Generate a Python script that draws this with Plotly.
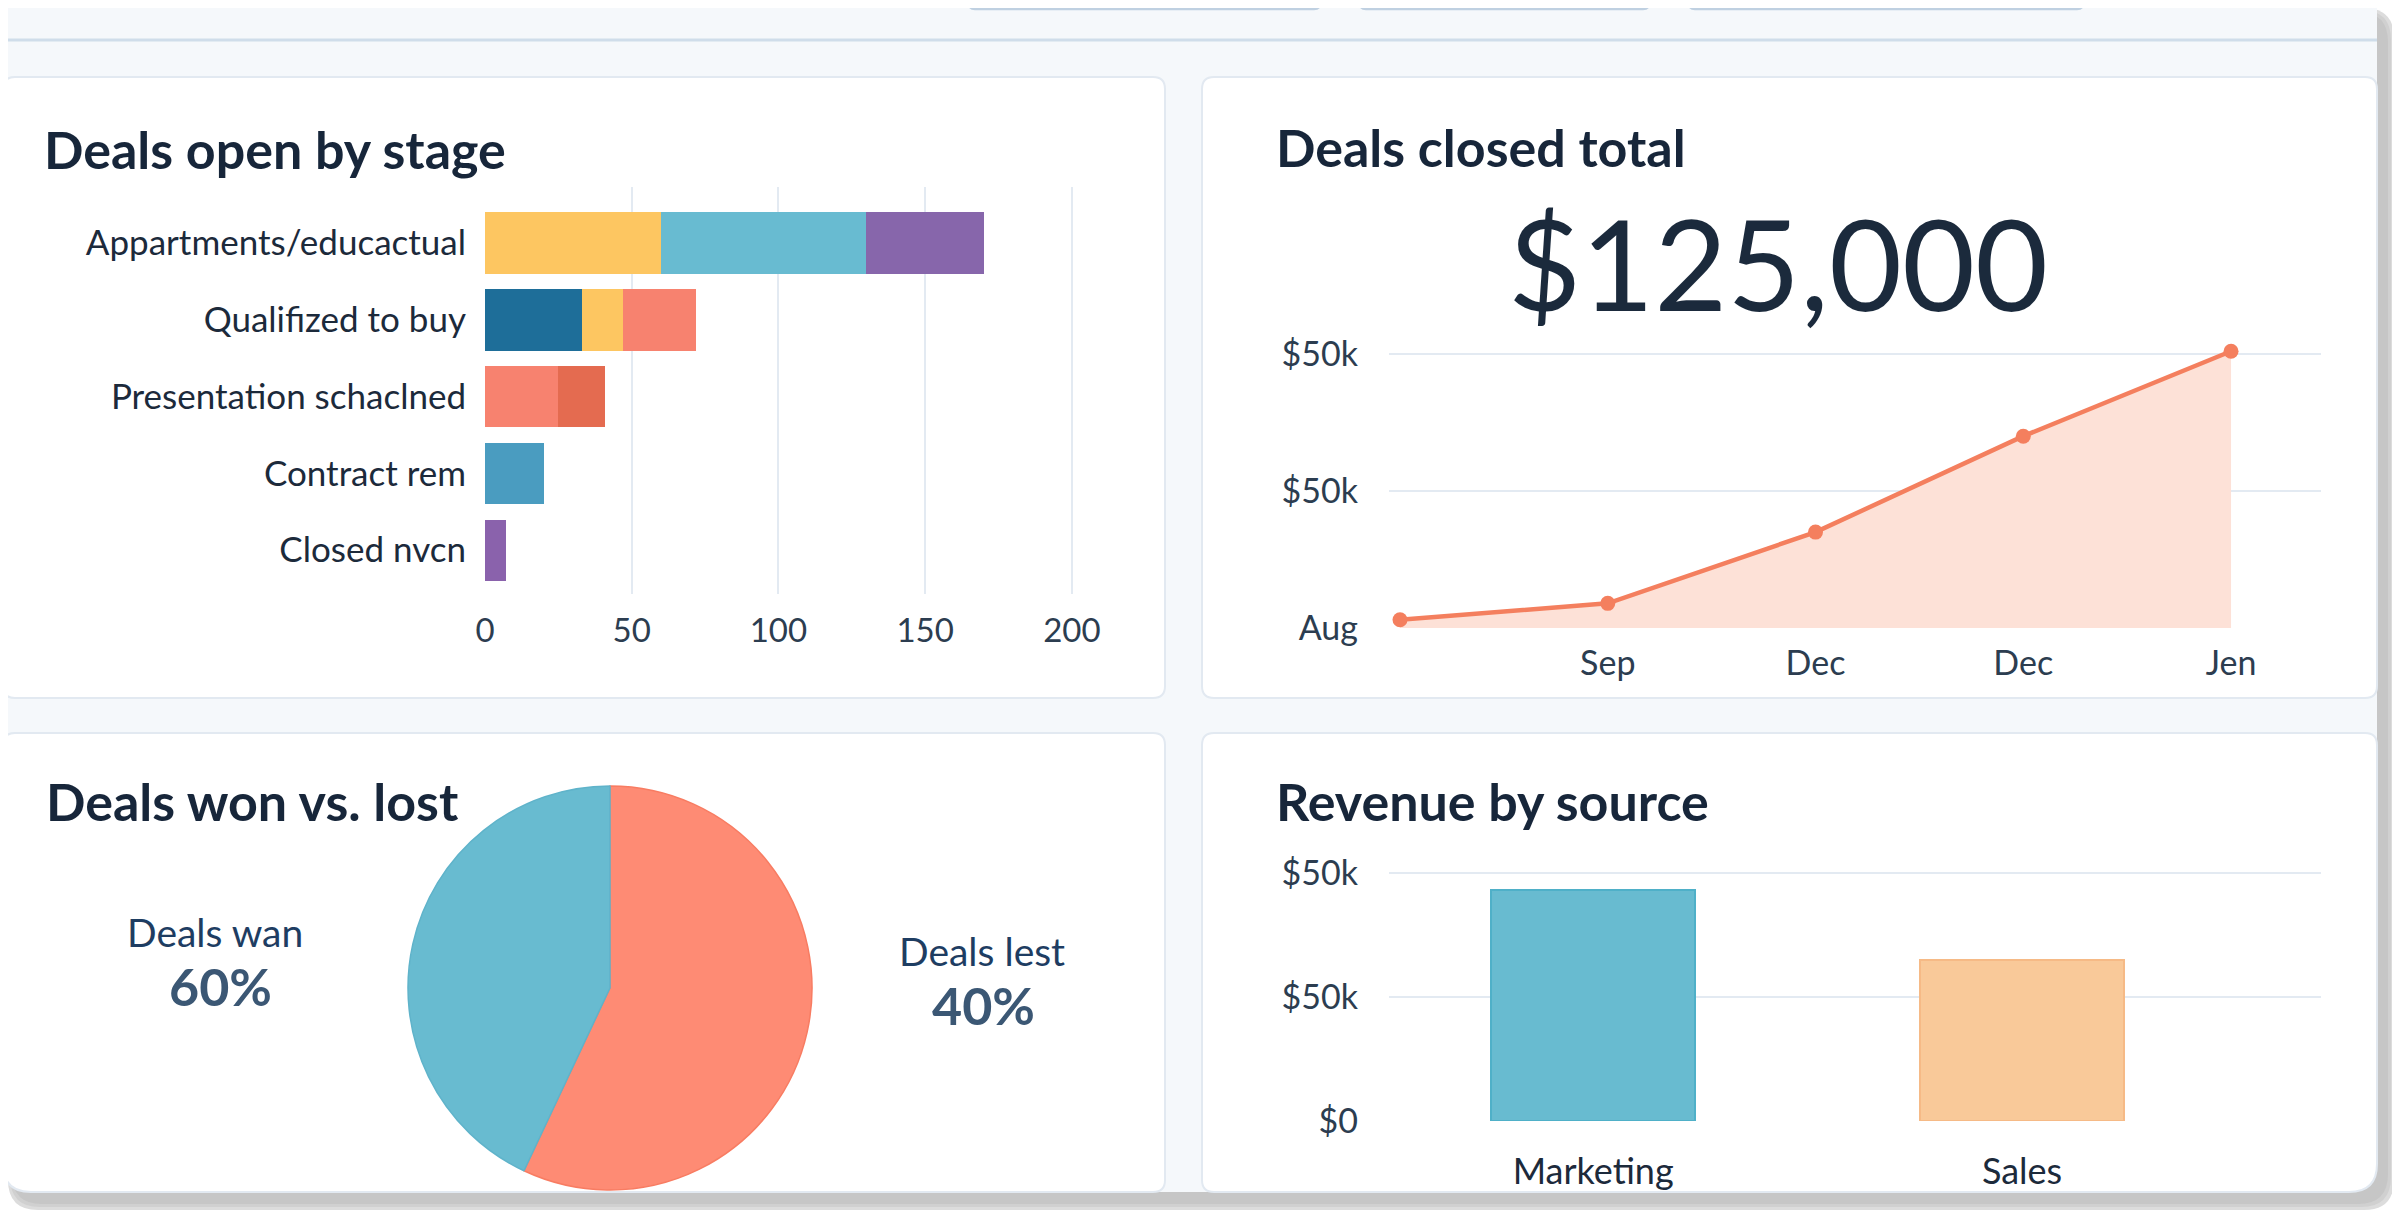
import plotly.graph_objects as go

W, H = 2392, 1210
OFF = 8  # page body margin

# ---------------- data ----------------
stages = ["Appartments/educactual", "Qualifized to buy", "Presentation schaclned", "Contract rem", "Closed nvcn"]
seg1_vals = [60, 33, 25, 20, 7]
seg2_vals = [70, 14, 16, None, None]
seg3_vals = [40, 25, None, None, None]
seg1_colors = ["#FDC661", "#1E6E99", "#F7826F", "#4A9CC0", "#8A62AC"]
seg2_colors = ["#68BBD1", "#FDC661", "#E46B50", "#FFFFFF", "#FFFFFF"]
seg3_colors = ["#8766AB", "#F7826F", "#FFFFFF", "#FFFFFF", "#FFFFFF"]
stage_ticks = [0, 50, 100, 150, 200]

months = ["Aug", "Sep", "Dec", "Dec", "Jen"]
closed_k = [3, 9, 35, 70, 101]
line_ytick_vals = [0, 50, 100]
line_ytick_text = ["Aug", "$50k", "$50k"]

pie_labels = ["Deals lost", "Deals won"]
pie_values = [57, 43]
pie_colors = ["#FE8B74", "#68BBD0"]
pie_edges = ["#F87C62", "#5FB3CA"]
pie_text_labels = ["Deals wan", "Deals lest"]
pie_text_pcts = ["60%", "40%"]

sources = ["Marketing", "Sales"]
revenue_k = [93, 65]
source_colors = ["#68BBD0", "#F9C999"]
source_edges = ["#4FB0C8", "#F6BA86"]
rev_ytick_vals = [0, 50, 100]
rev_ytick_text = ["$0", "$50k", "$50k"]

big_total = "$125,000"

FONT = "Lato"
DARK = "#17263A"
TICK = "#2C3D50"


def X(x):
    return (x - OFF) / W


def Y(y):
    return 1 - (y - OFF) / H


def rrect(x0, y0, x1, y1, r_tl, r_tr, r_br, r_bl):
    p = f"M {X(x0 + r_tl)},{Y(y0)} L {X(x1 - r_tr)},{Y(y0)} "
    p += f"Q {X(x1)},{Y(y0)} {X(x1)},{Y(y0 + r_tr)} "
    p += f"L {X(x1)},{Y(y1 - r_br)} Q {X(x1)},{Y(y1)} {X(x1 - r_br)},{Y(y1)} "
    p += f"L {X(x0 + r_bl)},{Y(y1)} Q {X(x0)},{Y(y1)} {X(x0)},{Y(y1 - r_bl)} "
    p += f"L {X(x0)},{Y(y0 + r_tl)} Q {X(x0)},{Y(y0)} {X(x0 + r_tl)},{Y(y0)} Z"
    return p


shapes = []
# outer shadow (layered)
for k, col in enumerate(["#dcdcdc", "#d0d0d0", "#c6c6c6"]):
    shapes.append(dict(type="path", xref="paper", yref="paper", layer="below",
                       path=rrect(8 + k * 2, 8 + k * 2, 2394 - k * 3, 1210 - k * 3, 30, 30, 30, 30),
                       fillcolor=col, line=dict(width=0)))
# frame
shapes.append(dict(type="path", xref="paper", yref="paper", layer="below",
                   path=rrect(3, -30, 2377, 1192, 28, 28, 28, 28),
                   fillcolor="#F5F8FB", line=dict(width=0)))
# header line
shapes.append(dict(type="line", xref="paper", yref="paper", layer="below",
                   x0=X(3), x1=X(2377), y0=Y(40), y1=Y(40), line=dict(color="#CFDDEA", width=3)))
# header buttons
for bx0, bx1 in [(969, 1320), (1360, 1649), (1689, 2083)]:
    shapes.append(dict(type="path", xref="paper", yref="paper", layer="below",
                       path=rrect(bx0, -20, bx1, 9, 0, 0, 6, 6),
                       fillcolor="#FFFFFF", line=dict(color="#BFD0E1", width=2.5)))
# cards
cards = [
    (3, 77, 1165, 698, 12, 12, 12, 12),
    (1202, 77, 2377, 698, 12, 12, 12, 12),
    (3, 733, 1165, 1192, 12, 12, 12, 28),
    (1202, 733, 2377, 1192, 12, 12, 28, 12),
]
for c in cards:
    shapes.append(dict(type="path", xref="paper", yref="paper", layer="below",
                       path=rrect(*c), fillcolor="#FFFFFF", line=dict(color="#E2E9F1", width=2)))

fig = go.Figure()

# ---------- Panel 1: stacked horizontal bars ----------
for vals, cols in [(seg1_vals, seg1_colors), (seg2_vals, seg2_colors), (seg3_vals, seg3_colors)]:
    fig.add_trace(go.Bar(y=stages, x=vals, orientation="h", marker=dict(color=cols, line=dict(width=0)),
                         width=0.8, xaxis="x", yaxis="y", showlegend=False, hoverinfo="skip"))

# ---------- Panel 2: area line ----------
fig.add_trace(go.Scatter(x=list(range(len(months))), y=closed_k, mode="lines+markers",
                         line=dict(color="#F47F5E", width=4.5),
                         marker=dict(color="#F47F5E", size=15),
                         fill="tozeroy", fillcolor="#FDE1D7",
                         xaxis="x2", yaxis="y2", showlegend=False, hoverinfo="skip"))

# ---------- Panel 3: pie ----------
pcx, pcy, pr = 610, 988, 202
fig.add_trace(go.Pie(labels=pie_labels, values=pie_values, sort=False, direction="clockwise",
                     rotation=0, textinfo="none", hoverinfo="skip", showlegend=False,
                     marker=dict(colors=pie_colors, line=dict(color=pie_edges, width=1.5)),
                     domain=dict(x=[X(pcx - pr), X(pcx + pr)], y=[Y(pcy + pr), Y(pcy - pr)])))

# ---------- Panel 4: bars ----------
fig.add_trace(go.Bar(x=sources, y=revenue_k, width=0.476,
                     marker=dict(color=source_colors, line=dict(color=source_edges, width=2)),
                     xaxis="x3", yaxis="y3", showlegend=False, hoverinfo="skip"))

grid = "#E3EAF2"
tickfont = dict(family=FONT, size=34, color=TICK)

fig.update_layout(
    width=W, height=H, template="none",
    margin=dict(l=0, r=0, t=0, b=0),
    paper_bgcolor="#FFFFFF", plot_bgcolor="rgba(0,0,0,0)",
    barmode="stack", bargap=0.2,
    shapes=shapes,
    xaxis=dict(domain=[X(485), X(1100)], range=[0, 209.6], tickvals=stage_ticks,
               showgrid=True, gridcolor=grid, gridwidth=2, zeroline=False, showline=False,
               ticks="", ticklabelstandoff=14, tickfont=dict(family=FONT, size=33, color=TICK),
               anchor="y", automargin=False),
    yaxis=dict(domain=[Y(594), Y(187)], range=[4.57, -0.73], type="category",
               showgrid=False, zeroline=False, showline=False, ticks="", ticklabelstandoff=18,
               tickfont=dict(family=FONT, size=35, color="#1C2A3B"), anchor="x", automargin=False),
    xaxis2=dict(domain=[X(1389), X(2321)], range=[-0.053, 4.433],
                tickvals=list(range(1, len(months))), ticktext=months[1:],
                showgrid=False, zeroline=False, showline=False, ticks="", ticklabelstandoff=12,
                tickfont=tickfont, anchor="y2", automargin=False),
    yaxis2=dict(domain=[Y(628), Y(340)], range=[0, 105.1], tickvals=line_ytick_vals, ticktext=line_ytick_text,
                showgrid=True, gridcolor=grid, gridwidth=2, zeroline=False, showline=False,
                ticks="", ticklabelstandoff=30, tickfont=tickfont, anchor="x2", automargin=False),
    xaxis3=dict(domain=[X(1389), X(2321)], range=[-0.476, 1.697], type="category",
                showgrid=False, zeroline=False, showline=False, ticks="", ticklabelstandoff=26,
                tickfont=dict(family=FONT, size=36, color="#1C2A3B"), anchor="y3", automargin=False),
    yaxis3=dict(domain=[Y(1121), Y(860)], range=[0, 105.2], tickvals=rev_ytick_vals, ticktext=rev_ytick_text,
                showgrid=True, gridcolor=grid, gridwidth=2, zeroline=False, showline=False,
                ticks="", ticklabelstandoff=30, tickfont=tickfont, anchor="x3", automargin=False),
)

ann = []


def txt(x, y, s, size, color, xanchor="left", bold=False):
    ann.append(dict(x=X(x), y=Y(y), xref="paper", yref="paper", text=f"<b>{s}</b>" if bold else s,
                    showarrow=False, xanchor=xanchor, yanchor="middle",
                    font=dict(family=FONT, size=size, color=color)))


txt(42, 149, "Deals open by stage", 52, DARK, bold=True)
txt(1274, 147, "Deals closed total", 52, DARK, bold=True)
txt(44, 801, "Deals won vs. lost", 52, DARK, bold=True)
txt(1274, 801, "Revenue by source", 52, DARK, bold=True)
txt(1778, 262, big_total, 126, "#1B2A3C", xanchor="center")
txt(215, 932, pie_text_labels[0], 39, "#1E3D62", xanchor="center")
txt(220, 986, pie_text_pcts[0], 52, "#3B5774", xanchor="center", bold=True)
txt(982, 951, pie_text_labels[1], 39, "#1E3D62", xanchor="center")
txt(983, 1005, pie_text_pcts[1], 52, "#3B5774", xanchor="center", bold=True)

fig.update_layout(annotations=ann)
fig.write_html("out.html")
